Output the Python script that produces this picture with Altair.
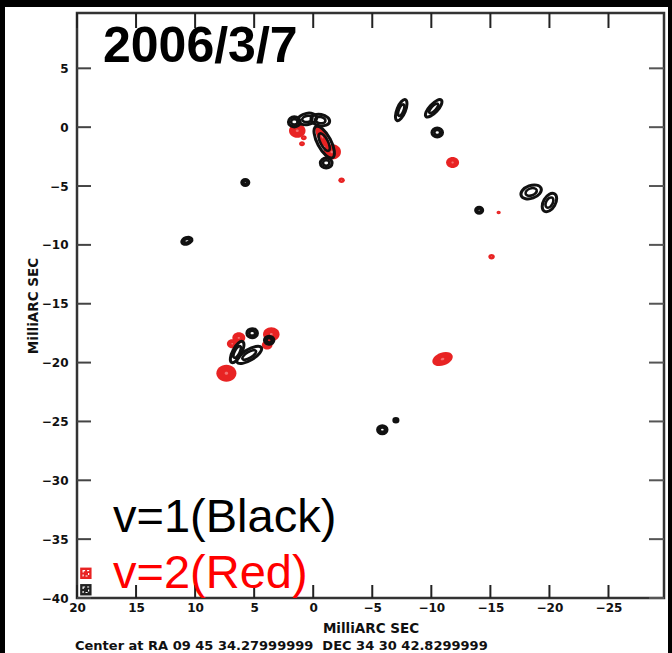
import altair as alt
import pandas as pd

# ---- axis ticks ----
x_ticks = [20, 15, 10, 5, 0, -5, -10, -15, -20, -25]
y_ticks = [5, 0, -5, -10, -15, -20, -25, -30, -35, -40]

# ---- v=1 (black contour components): RA offset, Dec offset (mas), major axis (mas), form, PA ----
v1_x = [1.6, 0.5, -0.6, -0.93, -1.1, 5.75, -7.45, -10.2, -10.5, -14.05, -18.45, -20.0,
        10.7, 5.17, 3.73, 6.44, 5.42, -5.85, -7.0]
v1_y = [0.45, 0.7, 0.6, -1.27, -3.05, -4.7, 1.45, 1.6, -0.45, -7.05, -5.5, -6.4,
        -9.65, -17.5, -18.1, -19.1, -19.35, -25.7, -24.9]
v1_major = [1.0, 1.6, 1.6, 3.0, 1.0, 0.6, 1.9, 1.9, 0.9, 0.6, 1.8, 1.7,
            0.9, 0.9, 0.8, 2.0, 2.4, 0.8, 0.35]
v1_form = ["round", "oval", "oval", "long", "round", "round", "long", "long", "round", "round", "oval", "oval",
           "oval", "round", "round", "long", "long", "round", "round"]
v1_angle = [0, 350, 10, 62, 0, 0, 292, 313, 0, 0, 340, 300,
            340, 0, 0, 298, 329, 0, 0]

# ---- v=2 (red components) ----
v2_x = [1.35, 0.8, 0.95, -0.75, -1.6, -2.4, -11.8, -15.7, -15.1, -10.95,
        6.3, 3.55, 7.35, 6.86, 3.9]
v2_y = [-0.3, -0.9, -1.4, -0.8, -2.1, -4.5, -3.0, -7.25, -11.0, -19.7,
        -17.9, -17.6, -20.9, -18.4, -18.5]
v2_major = [1.4, 0.5, 0.5, 2.0, 1.5, 0.55, 1.1, 0.35, 0.55, 1.8,
            1.1, 1.4, 1.7, 0.9, 0.9]
v2_form = ["round", "round", "round", "long", "round", "round", "round", "round", "round", "oval",
           "round", "round", "round", "round", "round"]
v2_angle = [0, 0, 0, 62, 0, 0, 0, 0, 0, 340,
            0, 0, 0, 0, 0]

# ---- annotations ----
label_text = ["2006/3/7", "v=1(Black)", "v=2(Red)"]
label_x = [17.8, 16.95, 16.95]
label_y = [6.8, -33.2, -38.0]

icon_x = [19.25, 19.25]
icon_y = [-37.9, -39.3]
icon_color = ["#e82323", "#222222"]

footer = "Center at RA 09 45 34.27999999 \u00a0DEC 34 30 42.8299999"

FONT = "Liberation Sans"
AXFONT = "DejaVu Sans"

forms = ["round", "oval", "long"]
def ellipse(r):
    return f"M -1 0 A 1 {r} 0 1 0 1 0 A 1 {r} 0 1 0 -1 0 Z"
form_paths = [ellipse(0.85), ellipse(0.6), ellipse(0.38)]

X = alt.X("x:Q",
          scale=alt.Scale(domain=[20, -29.7], nice=False, zero=False),
          axis=alt.Axis(values=x_ticks, ticks=False, domain=False, grid=False,
                        labelFont=AXFONT, labelFontWeight="bold", labelFontSize=12, labelColor="#111",
                        labelPadding=4, labelFlush=False, labelOverlap=False,
                        title="MilliARC SEC", titleFont=AXFONT, titleFontSize=13.5, titleFontWeight="bold",
                        titleColor="#111", titlePadding=8, zindex=1))
Y = alt.Y("y:Q",
          scale=alt.Scale(domain=[-40, 9.7], nice=False, zero=False),
          axis=alt.Axis(values=y_ticks, ticks=False, domain=False, grid=False,
                        labelFont=AXFONT, labelFontWeight="bold", labelFontSize=12, labelColor="#111",
                        labelPadding=9, labelOverlap=False,
                        title="MilliARC SEC", titleFont=AXFONT, titleFontSize=13.5, titleFontWeight="bold",
                        titleColor="#111", titlePadding=1, zindex=1))
SIZE_SCALE = alt.Scale(type="pow", exponent=2, domain=[0, 3], range=[0, 1253])
S = alt.Size("major:Q", scale=SIZE_SCALE, legend=None)
SH = alt.Shape("form:N", scale=alt.Scale(domain=forms, range=form_paths), legend=None)
A = alt.Angle("angle:Q", scale=None)

v1 = pd.DataFrame({"x": v1_x, "y": v1_y, "major": v1_major, "form": v1_form, "angle": v1_angle})
v2 = pd.DataFrame({"x": v2_x, "y": v2_y, "major": v2_major, "form": v2_form, "angle": v2_angle})
lab = pd.DataFrame({"x": label_x, "y": label_y, "t": label_text})
icons = pd.DataFrame({"x": icon_x, "y": icon_y, "c": icon_color})
xt = pd.DataFrame({"x": x_ticks})
yt = pd.DataFrame({"y": y_ticks})
one = pd.DataFrame({"a": [0]})
foot = pd.DataFrame({"t": [footer]})

W, H = 587, 585

# black frame strips outside the white page area
strip_top = alt.Chart(one).mark_rect(color="black").encode(
    x=alt.value(-77), x2=alt.value(W + 8), y=alt.value(-13), y2=alt.value(-6))
strip_left = alt.Chart(one).mark_rect(color="black").encode(
    x=alt.value(-77), x2=alt.value(-72), y=alt.value(-13), y2=alt.value(H + 55))
strip_right = alt.Chart(one).mark_rect(color="black").encode(
    x=alt.value(W + 4), x2=alt.value(W + 8), y=alt.value(-13), y2=alt.value(H + 55))

red = alt.Chart(v2).mark_point(filled=True, color="#e82323", opacity=1).encode(
    x=X, y=Y, size=S, shape=SH, angle=A)
red_in = alt.Chart(v2).transform_calculate(inner="datum.major*0.18").mark_point(
    filled=True, color="#f47070", opacity=1).encode(
    x=X, y=Y, size=alt.Size("inner:Q", scale=SIZE_SCALE, legend=None),
    shape=SH, angle=A)
blk = alt.Chart(v1).mark_point(filled=False, color="#111", strokeWidth=3, opacity=1).encode(
    x=X, y=Y, size=S, shape=SH, angle=A)
blk_in = alt.Chart(v1).transform_calculate(inner="datum.major*0.55").mark_point(
    filled=False, color="#111", strokeWidth=2.6, opacity=1).encode(
    x=X, y=Y, size=alt.Size("inner:Q", scale=SIZE_SCALE, legend=None),
    shape=SH, angle=A)

tick_top = alt.Chart(xt).mark_rule(color="#222", strokeWidth=2).encode(x=X, y=alt.value(0), y2=alt.value(15))
tick_bot = alt.Chart(xt).mark_rule(color="#222", strokeWidth=2).encode(x=X, y=alt.value(H), y2=alt.value(H - 13))
tick_left = alt.Chart(yt).mark_rule(color="#444", strokeWidth=2).encode(y=Y, x=alt.value(0), x2=alt.value(14))
tick_right = alt.Chart(yt).mark_rule(color="#555", strokeWidth=2).encode(y=Y, x=alt.value(W), x2=alt.value(W - 15))

icon_layer = alt.Chart(icons).mark_point(shape="square", filled=True, size=130, opacity=1).encode(
    x=X, y=Y, color=alt.Color("c:N", scale=None))
icon_inner = alt.Chart(icons).mark_point(shape="square", filled=False, size=30, opacity=1,
                                         color="white", strokeWidth=1.2, strokeDash=[2, 2]).encode(
    x=X, y=Y)

title_txt = alt.Chart(lab.iloc[[0]]).mark_text(
    align="left", baseline="middle", font=FONT, fontWeight="bold", fontSize=50, color="black").encode(
    x=X, y=Y, text="t:N")
v1_txt = alt.Chart(lab.iloc[[1]]).mark_text(
    align="left", baseline="middle", font=FONT, fontSize=47, color="black").encode(
    x=X, y=Y, text="t:N")
v2_txt = alt.Chart(lab.iloc[[2]]).mark_text(
    align="left", baseline="middle", font=FONT, fontSize=47, color="#ff0000").encode(
    x=X, y=Y, text="t:N")

foot_txt = alt.Chart(foot).mark_text(
    align="left", baseline="middle", font=AXFONT, fontWeight="bold", fontSize=13, color="#111").encode(
    x=alt.value(-2), y=alt.value(H + 48), text="t:N")

chart = alt.layer(
    strip_top, strip_left, strip_right,
    red, red_in, blk, blk_in,
    tick_top, tick_bot, tick_left, tick_right,
    icon_layer, icon_inner, title_txt, v1_txt, v2_txt, foot_txt,
).properties(
    width=W, height=H,
    autosize=alt.AutoSizeParams(type="none"),
    padding={"left": 77, "right": 8, "top": 13, "bottom": 55},
    background="white",
).configure_view(stroke="#333", strokeWidth=2.5)

chart.save("out.html", embed_options={"renderer": "svg", "actions": False})
